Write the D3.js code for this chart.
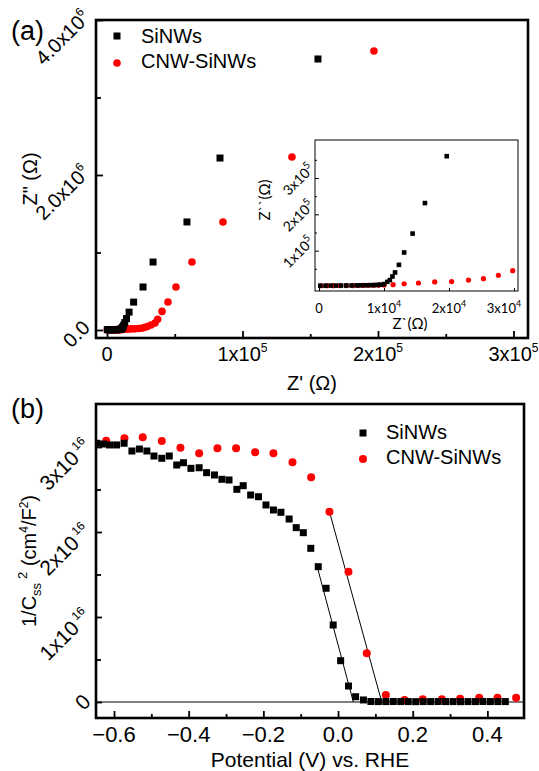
<!DOCTYPE html>
<html>
<head>
  <meta charset="utf-8">
  <title>Nyquist and Mott-Schottky plots</title>
  <script src="https://d3js.org/d3.v7.min.js"></script>
  <style>
    body { margin: 0; background: #fff; }
    text { font-family: "Liberation Sans", Arial, sans-serif; fill: #000; }
    .inset text { font-family: Lato, "Open Sans", sans-serif; }
  </style>
</head>
<body>
  <svg id="chart" width="539" height="771"></svg>

  <script>
    // ---- data, panel (a): Nyquist plot, Z' and Z'' in ohm
    var siZre = [200, 1000, 1800, 2600, 3400, 4200, 5000, 5800, 6500, 7200, 7900, 8500, 9000, 9500, 10000,
                 10500, 10900, 11300, 11700, 12300, 13100, 14400, 16300, 19650,
                 26600, 34000, 59000, 83400, 155700];
    var siZim = [3600, 3700, 3800, 3900, 4000, 4100, 4200, 4400, 4600, 4800, 5000, 5400, 5800, 6500, 8000,
                 14000, 19000, 29000, 40000, 61000, 95000, 147000, 231000, 360000,
                 555000, 877000, 1394000, 2219000, 3497000];
    var cnZre = [300, 1200, 2200, 3200, 4200, 5200, 6000, 6800, 7600, 8400, 9200, 10000,
                 11400, 13100, 15300, 17800, 20400, 23000, 25300, 27600, 29800,
                 32500, 35400, 37400, 40600, 45000, 50900, 62700, 85600, 136500, 197000];
    var cnZim = [3500, 3600, 3700, 3800, 3900, 4000, 4100, 4300, 4500, 4700, 5000, 5300,
                 6400, 9000, 11000, 14000, 15000, 19000, 23000, 32000, 45000,
                 65000, 90000, 138000, 240000, 361000, 555000, 877000, 1394000, 2232000, 3600000];

    // tick values / labels, panel (a)
    var aXMajor = [0, 1e5, 2e5, 3e5];
    var aXMinor = [0.5e5, 1.5e5, 2.5e5];
    var aXLabels = [["0", ""], ["1x10", "5"], ["2x10", "5"], ["3x10", "5"]];
    var aYMajor = [0, 2e6, 4e6];
    var aYMinor = [1e6, 3e6];
    var aYLabels = [["0.0", ""], ["2.0x10", "6"], ["4.0x10", "6"]];
    // inset
    var iXMajor = [0, 1e4, 2e4, 3e4];
    var iXLabels = [["0", ""], ["1x10", "4"], ["2x10", "4"], ["3x10", "4"]];
    var iYMajor = [1e5, 2e5, 3e5];
    var iYMinor = [0.5e5, 1.5e5, 2.5e5, 3.5e5];
    var iYLabels = [["1x10", "5"], ["2x10", "5"], ["3x10", "5"]];

    // ---- data, panel (b): Mott-Schottky, potential (V vs RHE) and 1/Css^2 in units of 1e16 cm4/F2
    var siE = [-0.646, -0.628, -0.612, -0.593, -0.573, -0.552, -0.532, -0.512, -0.493, -0.472,
               -0.452, -0.432, -0.414, -0.394, -0.372, -0.352, -0.331, -0.311, -0.292, -0.271,
               -0.254, -0.234, -0.213, -0.193, -0.173, -0.153, -0.131, -0.112, -0.093, -0.073,
               -0.053, -0.032, -0.013, 0.007, 0.028, 0.047, 0.068,
               0.088, 0.108, 0.128, 0.148, 0.168, 0.188, 0.208, 0.228, 0.248, 0.268,
               0.288, 0.308, 0.328, 0.348, 0.368, 0.388, 0.408, 0.428, 0.448];
    var siC = [3.044, 3.035, 3.024, 3.024, 3.044, 2.953, 2.976, 2.953, 2.894, 2.867,
               2.894, 2.788, 2.815, 2.749, 2.756, 2.698, 2.671, 2.620, 2.612, 2.502,
               2.545, 2.435, 2.415, 2.318, 2.259, 2.232, 2.153, 2.051, 1.992, 1.808,
               1.592, 1.338, 0.906, 0.486, 0.188, 0.062, 0.024,
               0.006, 0.005, 0.005, 0.006, 0.005, 0.005, 0.004, 0.005, 0.005, 0.006,
               0.005, 0.005, 0.004, 0.005, 0.005, 0.006, 0.005, 0.005, 0.005];
    var cnE = [-0.621, -0.572, -0.523, -0.472, -0.422, -0.372, -0.323, -0.273, -0.222, -0.173,
               -0.122, -0.072, -0.023, 0.028, 0.077, 0.128, 0.178, 0.227, 0.278, 0.327,
               0.378, 0.427, 0.477];
    var cnC = [3.074, 3.102, 3.114, 3.071, 2.992, 2.926, 2.985, 2.985, 2.938, 2.926,
               2.82, 2.644, 2.239, 1.533, 0.573, 0.082, 0.024, 0.032, 0.032, 0.039,
               0.051, 0.051, 0.051];
    // linear fits (end points)
    var siFitE = [-0.057, 0.041], siFitC = [1.61, 0];
    var cnFitE = [-0.023, 0.117], cnFitC = [2.239, 0];

    var bXMajor = [-0.6, -0.4, -0.2, 0.0, 0.2, 0.4];
    var bXMinor = [-0.5, -0.3, -0.1, 0.1, 0.3];
    var bXLabels = ["\u22120.6", "\u22120.4", "\u22120.2", "0.0", "0.2", "0.4"];
    var bYMajor = [0, 1, 2, 3];
    var bYMinor = [0.5, 1.5, 2.5];
    var bYLabels = [["0", ""], ["1x10", "16"], ["2x10", "16"], ["3x10", "16"]];

    var seriesNames = ["SiNWs", "CNW-SiNWs"];
    var RED = "#ff0000";

    var svg = d3.select("#chart");

    function zip(xs, ys) { return xs.map(function(x, i) { return [x, ys[i]]; }); }

    // text with optional superscript
    function supText(sel, base, sup, supSize, supDy) {
      sel.append("tspan").text(base);
      if (sup) {
        sel.append("tspan").attr("dy", supDy).attr("font-size", supSize).text(sup);
      }
      return sel;
    }

    // squares and circles
    function drawSquares(g, pts, x, y, size) {
      g.selectAll(null).data(pts).enter().append("rect")
        .attr("x", function(d) { return x(d[0]) - size / 2; })
        .attr("y", function(d) { return y(d[1]) - size / 2; })
        .attr("width", size).attr("height", size)
        .attr("fill", "#000");
    }
    function drawCircles(g, pts, x, y, r) {
      g.selectAll(null).data(pts).enter().append("circle")
        .attr("cx", function(d) { return x(d[0]); })
        .attr("cy", function(d) { return y(d[1]); })
        .attr("r", r)
        .attr("fill", RED);
    }

    function ticks(g, axis) {
      g.call(axis).call(function(s) { s.select(".domain").remove(); });
      g.selectAll(".tick line").attr("stroke", "#000").attr("stroke-width", 1.8);
    }

    // =============== panel (a) ===============
    var fa = { left: 96, right: 528, top: 20, bottom: 338 };
    var xA = d3.scaleLinear().domain([0, 3e5]).range([107, 513.5]);
    var yA = d3.scaleLinear().domain([0, 4e6]).range([330, 20]);

    svg.append("clipPath").attr("id", "clipA").append("rect")
      .attr("x", fa.left).attr("y", fa.top).attr("width", fa.right - fa.left).attr("height", fa.bottom - fa.top);

    var gA = svg.append("g");
    ticks(gA.append("g").attr("transform", "translate(0," + fa.bottom + ")"),
      d3.axisBottom(xA).tickValues(aXMajor).tickSize(-7).tickFormat(""));
    ticks(gA.append("g").attr("transform", "translate(0," + fa.bottom + ")"),
      d3.axisBottom(xA).tickValues(aXMinor).tickSize(-4).tickFormat(""));
    ticks(gA.append("g").attr("transform", "translate(" + fa.left + ",0)"),
      d3.axisLeft(yA).tickValues(aYMajor).tickSize(-7).tickFormat(""));
    ticks(gA.append("g").attr("transform", "translate(" + fa.left + ",0)"),
      d3.axisLeft(yA).tickValues(aYMinor).tickSize(-5).tickFormat(""));

    // x tick labels
    aXMajor.forEach(function(v, i) {
      var t = gA.append("text").attr("x", xA(v)).attr("y", 361)
        .attr("text-anchor", "middle").attr("font-size", 20);
      supText(t, aXLabels[i][0], aXLabels[i][1], 12, -9);
    });
    // y tick labels, rotated
    aYMajor.forEach(function(v, i) {
      var t = gA.append("text")
        .attr("transform", "translate(" + (fa.left - 5) + "," + (yA(v) - 1) + ") rotate(-45)")
        .attr("text-anchor", "end").attr("font-size", 20);
      supText(t, aYLabels[i][0], aYLabels[i][1], 12, -9);
    });

    var ptsA = gA.append("g").attr("clip-path", "url(#clipA)");
    drawCircles(ptsA, zip(cnZre, cnZim), xA, yA, 3.8);
    drawSquares(ptsA, zip(siZre, siZim), xA, yA, 7);

    gA.append("rect").attr("x", fa.left).attr("y", fa.top)
      .attr("width", fa.right - fa.left).attr("height", fa.bottom - fa.top)
      .attr("fill", "none").attr("stroke", "#000").attr("stroke-width", 2.6);

    // axis titles
    gA.append("text").attr("x", (fa.left + fa.right) / 2).attr("y", 390)
      .attr("text-anchor", "middle").attr("font-size", 20).text("Z' (\u03a9)");
    gA.append("text").attr("transform", "translate(37," + ((fa.top + fa.bottom) / 2) + ") rotate(-90)")
      .attr("text-anchor", "middle").attr("font-size", 20).text("Z\" (\u03a9)");
    gA.append("text").attr("x", 11).attr("y", 40).attr("font-size", 27).text("(a)");

    // legend
    var legA = gA.append("g");
    legA.append("rect").attr("x", 113.5).attr("y", 32.5).attr("width", 7).attr("height", 7).attr("fill", "#000");
    legA.append("text").attr("x", 141).attr("y", 43).attr("font-size", 20).text(seriesNames[0]);
    legA.append("circle").attr("cx", 117).attr("cy", 63).attr("r", 3.8).attr("fill", RED);
    legA.append("text").attr("x", 141).attr("y", 68).attr("font-size", 20).text(seriesNames[1]);

    // ---- inset
    var fi = { left: 315, right: 518, top: 140, bottom: 291 };
    var xI = d3.scaleLinear().domain([0, 3e4]).range([319, 514]);
    var yI = d3.scaleLinear().domain([0, 3e5]).range([287, 178]);
    var gI = svg.append("g").attr("class", "inset");

    svg.append("clipPath").attr("id", "clipI").append("rect")
      .attr("x", fi.left).attr("y", fi.top).attr("width", fi.right - fi.left).attr("height", fi.bottom - fi.top);

    gI.append("rect").attr("x", fi.left).attr("y", fi.top)
      .attr("width", fi.right - fi.left).attr("height", fi.bottom - fi.top).attr("fill", "#fff");
    ticks(gI.append("g").attr("transform", "translate(" + fi.left + ",0)"),
      d3.axisLeft(yI).tickValues(iYMajor).tickSize(-4).tickFormat(""));
    ticks(gI.append("g").attr("transform", "translate(" + fi.left + ",0)"),
      d3.axisLeft(yI).tickValues(iYMinor).tickSize(-2).tickFormat(""));
    ticks(gI.append("g").attr("transform", "translate(0," + fi.bottom + ")"),
      d3.axisBottom(xI).tickValues(iXMajor).tickSize(-3).tickFormat(""));
    gI.selectAll(".tick line").attr("stroke-width", 1);

    var ptsI = gI.append("g").attr("clip-path", "url(#clipI)");
    drawCircles(ptsI, zip(cnZre, cnZim), xI, yI, 2.6);
    drawSquares(ptsI, zip(siZre, siZim), xI, yI, 4.6);

    gI.append("rect").attr("x", fi.left).attr("y", fi.top)
      .attr("width", fi.right - fi.left).attr("height", fi.bottom - fi.top)
      .attr("fill", "none").attr("stroke", "#000").attr("stroke-width", 1);

    iXMajor.forEach(function(v, i) {
      var shift = i === iXMajor.length - 1 ? -10 : 0;
      var t = gI.append("text").attr("x", xI(v) + shift).attr("y", 313)
        .attr("text-anchor", "middle").attr("font-size", 13);
      supText(t, iXLabels[i][0], iXLabels[i][1], 9, -6);
    });
    iYMajor.forEach(function(v, i) {
      var t = gI.append("text")
        .attr("transform", "translate(" + fi.left + "," + (yI(v) - 8) + ") rotate(-45)")
        .attr("text-anchor", "end").attr("font-size", 14);
      supText(t, iYLabels[i][0], iYLabels[i][1], 10, -6);
    });
    gI.append("text").attr("x", 410).attr("y", 329).attr("text-anchor", "middle")
      .attr("font-size", 15).text("Z`(\u03a9)");
    gI.append("text").attr("transform", "translate(270,200) rotate(-90)")
      .attr("text-anchor", "middle").attr("font-size", 15).text("Z``(\u03a9)");

    // =============== panel (b) ===============
    var fb = { left: 96, right: 524, top: 404, bottom: 718 };
    var xB = d3.scaleLinear().domain([-0.6, 0.4]).range([114, 487.4]);
    var yB = d3.scaleLinear().domain([0, 3]).range([702, 447]);
    var gB = svg.append("g");

    svg.append("clipPath").attr("id", "clipB").append("rect")
      .attr("x", fb.left).attr("y", fb.top).attr("width", fb.right - fb.left).attr("height", fb.bottom - fb.top);

    ticks(gB.append("g").attr("transform", "translate(0," + fb.bottom + ")"),
      d3.axisBottom(xB).tickValues(bXMajor).tickSize(-7).tickFormat(""));
    ticks(gB.append("g").attr("transform", "translate(0," + fb.bottom + ")"),
      d3.axisBottom(xB).tickValues(bXMinor).tickSize(-4).tickFormat(""));
    ticks(gB.append("g").attr("transform", "translate(" + fb.left + ",0)"),
      d3.axisLeft(yB).tickValues(bYMajor).tickSize(-6).tickFormat(""));
    ticks(gB.append("g").attr("transform", "translate(" + fb.left + ",0)"),
      d3.axisLeft(yB).tickValues(bYMinor).tickSize(-5).tickFormat(""));

    bXMajor.forEach(function(v, i) {
      gB.append("text").attr("x", xB(v)).attr("y", 742)
        .attr("text-anchor", "middle").attr("font-size", 22).text(bXLabels[i]);
    });
    bYMajor.forEach(function(v, i) {
      var t = gB.append("text")
        .attr("transform", "translate(" + (fb.left - 4) + "," + (yB(v) + 1) + ") rotate(-45)")
        .attr("text-anchor", "end").attr("font-size", 21);
      t.append("tspan").text(bYLabels[i][0]);
      if (bYLabels[i][1]) t.append("tspan").attr("dx", 3).attr("dy", -9).attr("font-size", 12).text(bYLabels[i][1]);
    });

    // zero line
    gB.append("line").attr("x1", fb.left).attr("x2", fb.right)
      .attr("y1", yB(0)).attr("y2", yB(0)).attr("stroke", "#000").attr("stroke-width", 1);

    var ptsB = gB.append("g").attr("clip-path", "url(#clipB)");
    var fitLine = d3.line().x(function(d) { return xB(d[0]); }).y(function(d) { return yB(d[1]); });
    ptsB.append("path").datum(zip(siFitE, siFitC)).attr("d", fitLine)
      .attr("fill", "none").attr("stroke", "#000").attr("stroke-width", 1);
    ptsB.append("path").datum(zip(cnFitE, cnFitC)).attr("d", fitLine)
      .attr("fill", "none").attr("stroke", "#000").attr("stroke-width", 1);
    drawCircles(ptsB, zip(cnE, cnC), xB, yB, 4);
    drawSquares(ptsB, zip(siE, siC), xB, yB, 7);

    gB.append("rect").attr("x", fb.left).attr("y", fb.top)
      .attr("width", fb.right - fb.left).attr("height", fb.bottom - fb.top)
      .attr("fill", "none").attr("stroke", "#000").attr("stroke-width", 2.6);

    gB.append("text").attr("x", (fb.left + fb.right) / 2).attr("y", 767)
      .attr("text-anchor", "middle").attr("font-size", 21).text("Potential (V) vs. RHE");
    var yt = gB.append("text").attr("transform", "translate(36," + ((fb.top + fb.bottom) / 2) + ") rotate(-90)")
      .attr("text-anchor", "middle").attr("font-size", 20);
    yt.append("tspan").text("1/C");
    yt.append("tspan").attr("dy", 5).attr("font-size", 13).text("ss");
    yt.append("tspan").attr("dx", 4).attr("dy", -14).attr("font-size", 13).text("2");
    yt.append("tspan").attr("dy", 9).text(" (cm");
    yt.append("tspan").attr("dy", -8).attr("font-size", 12).text("4");
    yt.append("tspan").attr("dy", 8).text("/F");
    yt.append("tspan").attr("dy", -8).attr("font-size", 12).text("2");
    yt.append("tspan").attr("dy", 8).text(")");
    gB.append("text").attr("x", 11).attr("y", 418).attr("font-size", 27).text("(b)");

    var legB = gB.append("g");
    legB.append("rect").attr("x", 359.5).attr("y", 429.5).attr("width", 7).attr("height", 7).attr("fill", "#000");
    legB.append("text").attr("x", 386).attr("y", 439).attr("font-size", 20).text(seriesNames[0]);
    legB.append("circle").attr("cx", 363).attr("cy", 459).attr("r", 4).attr("fill", RED);
    legB.append("text").attr("x", 386).attr("y", 464).attr("font-size", 20).text(seriesNames[1]);
  </script>
</body>
</html>
